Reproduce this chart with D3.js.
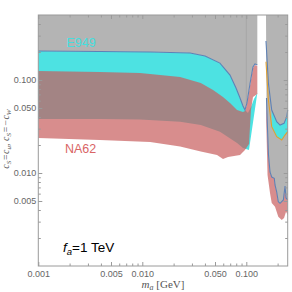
<!DOCTYPE html>
<html><head><meta charset="utf-8">
<script src="https://cdn.jsdelivr.net/npm/d3@7"></script>
<style>body{margin:0;background:#fff}</style></head>
<body>
<svg id="c" width="292" height="292"></svg>
<script>
// ---------- data (m_a in GeV, coupling) ----------
// upper envelope of the excluded region, left part (blue line)
const envMass = [0.001,0.0039,0.0119,0.0288,0.0401,0.0558,0.0697,0.0796,0.087,0.0929,0.0971,0.1015,0.1084,0.1159,0.1211,0.1276];
const envCoup = [0.205,0.2024,0.200,0.195,0.181,0.152,0.113,0.082,0.064,0.0525,0.0476,0.0566,0.0906,0.138,0.1486,0.145];
// E949 band (left part)
const e949UpMass = [0.001,0.0039,0.0119,0.0288,0.0401,0.0558,0.0697,0.0796,0.087,0.0929,0.0971,0.1037,0.1109,0.1185,0.1276];
const e949UpCoup = [0.205,0.2024,0.200,0.195,0.181,0.152,0.113,0.082,0.064,0.0525,0.0476,0.0442,0.0513,0.0625,0.0725];
const e949LoMass = [0.001,0.0039,0.0095,0.0231,0.0365,0.0558,0.0814,0.0929,0.1061];
const e949LoCoup = [0.0381,0.0381,0.0376,0.0356,0.0328,0.0278,0.021,0.0186,0.0177];
// NA62 band (left part)
const na62UpMass = [0.001,0.0039,0.0095,0.0231,0.0365,0.0479,0.0597,0.0697,0.0814,0.0929,0.0971,0.1015,0.1084,0.1159,0.1211,0.1276];
const na62UpCoup = [0.125,0.122,0.119,0.1077,0.0928,0.078,0.0656,0.0566,0.0476,0.0453,0.0464,0.0552,0.0861,0.1346,0.145,0.1415];
const na62LoMass = [0.001,0.0039,0.0119,0.0231,0.0365,0.0523,0.0597,0.0667,0.087,0.0971,0.1061,0.1109,0.1159,0.1276];
const na62LoCoup = [0.0238,0.0226,0.0216,0.0193,0.017,0.0156,0.01415,0.0149,0.0156,0.0177,0.0205,0.0476,0.0656,0.0706];
// right part: upper blue line, orange line, lower blue line
const rUpMass = [0.1546,0.163,0.1755,0.196,0.211,0.2306,0.245,0.25];
const rUpCoup = [0.2626,0.0928,0.0476,0.0356,0.0328,0.0342,0.0403,0.0476];
const rOrMass = [0.1546,0.163,0.1755,0.196,0.219,0.2357,0.25];
const rOrCoup = [0.1574,0.061,0.0315,0.0246,0.0226,0.0256,0.0278];
const rLoMass = [0.1563,0.160,0.1634,0.169,0.1755,0.1857,0.1888,0.196,0.203,0.211,0.227,0.2357,0.241,0.25];
const rLoCoup = [0.064,0.029,0.0156,0.01026,0.00906,0.00877,0.00743,0.00625,0.00491,0.00472,0.00513,0.00725,0.00539,0.00513];
// NA62 lower edge, right part
const na62RLoMass = [0.1553,0.160,0.169,0.1755,0.1888,0.203,0.219,0.2306,0.241,0.25];
const na62RLoCoup = [0.0372,0.0095,0.0061,0.00475,0.00434,0.00339,0.00312,0.00328,0.00384,0.00353];
const refMass = 0.1;
// ticks
const xMajor = [0.001,0.005,0.01,0.05,0.1];
const xMajorLabels = ["0.001","0.005","0.010","0.050","0.100"];
const xMinor = [0.002,0.003,0.004,0.006,0.007,0.008,0.009,0.02,0.03,0.04,0.06,0.07,0.08,0.09,0.2];
const yMajor = [0.005,0.01,0.05,0.1];
const yMajorLabels = ["0.005","0.010","0.050","0.100"];
const yMinor = [0.002,0.003,0.004,0.006,0.007,0.008,0.009,0.02,0.03,0.04,0.06,0.07,0.08,0.09,0.2,0.3,0.4];

// ---------- scales ----------
const x = d3.scaleLog().domain([0.001,0.25]).range([38.3,287.7]);
const y = d3.scaleLog().domain([0.001,0.5]).range([266,15]);
const yTop = y.domain()[1];
const zip = (a,b) => a.map((v,i)=>[v,b[i]]);
const line = d3.line().x(d=>x(d[0])).y(d=>y(d[1]));
const poly = (up, lo) => line(up.concat(lo.slice().reverse())) + "Z";

const svg = d3.select("#c");
const GRAY = "#b4b4b4", CYAN = "#4de2e2", PINK = "rgba(200,93,93,0.7)", BLUE = "#5e81b5", ORANGE = "#e0a030";

// gray excluded regions
svg.append("path").attr("fill",GRAY)
  .attr("d", poly([[envMass[0],yTop],[envMass[envMass.length-1],yTop]], zip(envMass,envCoup)));
svg.append("path").attr("fill",GRAY)
  .attr("d", poly([[rUpMass[0],yTop],[x.domain()[1],yTop]], zip(rLoMass,rLoCoup)));
// faint reference line
const envAtRef = d3.scaleLog().domain(envMass).range(envCoup)(refMass);
svg.append("line").attr("x1",x(refMass)).attr("x2",x(refMass)).attr("y1",y(yTop)).attr("y2",y(0.056))
  .attr("stroke","#a2a2a2").attr("stroke-width",0.8);

// E949 (cyan)
svg.append("path").attr("fill",CYAN)
  .attr("d", poly(zip(e949UpMass,e949UpCoup), zip(e949LoMass,e949LoCoup)));
const rUp = zip(rUpMass,rUpCoup), rOr = zip(rOrMass,rOrCoup);
svg.append("path").attr("fill",CYAN)
  .attr("d", poly(rUp.filter(d=>d[0]>=0.1755), rOr.filter(d=>d[0]>=0.1755)));

// NA62 (pink, translucent)
svg.append("path").attr("fill",PINK)
  .attr("d", poly(zip(na62UpMass,na62UpCoup), zip(na62LoMass,na62LoCoup)));
svg.append("path").attr("fill",PINK)
  .attr("d", poly(zip(rLoMass,rLoCoup), zip(na62RLoMass,na62RLoCoup)));

// boundary lines
const stroke = (pts,c)=>svg.append("path").attr("d",line(pts)).attr("fill","none").attr("stroke",c).attr("stroke-width",1.1);
stroke(zip(envMass,envCoup), BLUE);
stroke(rUp, BLUE);
stroke(zip(rLoMass,rLoCoup), BLUE);
stroke(rOr, ORANGE);

// ---------- axes ----------
const AX = "#9a9a9a";
function style(g){
  g.select(".domain").remove();
  g.selectAll(".tick line").attr("stroke",AX);
  g.selectAll(".tick text").attr("fill","#666").attr("font-family","'Liberation Sans', Arial, sans-serif").attr("font-size",9);
}
const x0 = x.range()[0], x1 = x.range()[1], y0 = y.range()[0], y1 = y.range()[1];
svg.append("g").attr("transform",`translate(0,${y0})`)
  .call(d3.axisBottom(x).tickValues(xMajor).tickFormat((d,i)=>xMajorLabels[i]).tickSizeInner(-4).tickSizeOuter(0).tickPadding(4.6)).call(style);
svg.append("g").attr("transform",`translate(0,${y0})`)
  .call(d3.axisBottom(x).tickValues(xMinor).tickFormat("").tickSizeInner(-2.5).tickSizeOuter(0)).call(style);
svg.append("g").attr("transform",`translate(0,${y1})`)
  .call(d3.axisTop(x).tickValues(xMajor).tickFormat("").tickSizeInner(-4).tickSizeOuter(0)).call(style);
svg.append("g").attr("transform",`translate(0,${y1})`)
  .call(d3.axisTop(x).tickValues(xMinor).tickFormat("").tickSizeInner(-2.5).tickSizeOuter(0)).call(style);
svg.append("g").attr("transform",`translate(${x0},0)`)
  .call(d3.axisLeft(y).tickValues(yMajor).tickFormat((d,i)=>yMajorLabels[i]).tickSizeInner(-4).tickSizeOuter(0).tickPadding(2)).call(style);
svg.append("g").attr("transform",`translate(${x0},0)`)
  .call(d3.axisLeft(y).tickValues(yMinor).tickFormat("").tickSizeInner(-2.5).tickSizeOuter(0)).call(style);
svg.append("g").attr("transform",`translate(${x1},0)`)
  .call(d3.axisRight(y).tickValues(yMajor).tickFormat("").tickSizeInner(-4).tickSizeOuter(0)).call(style);
svg.append("g").attr("transform",`translate(${x1},0)`)
  .call(d3.axisRight(y).tickValues(yMinor).tickFormat("").tickSizeInner(-2.5).tickSizeOuter(0)).call(style);
svg.append("rect").attr("x",x0).attr("y",y1).attr("width",x1-x0).attr("height",y0-y1)
  .attr("fill","none").attr("stroke",AX).attr("stroke-width",1);

// ---------- labels ----------
const SANS = "'Liberation Sans', Arial, sans-serif", SERIF = "'Liberation Serif', 'Times New Roman', serif";
svg.append("text").attr("x",66.5).attr("y",46.5).attr("fill","#45dede")
  .attr("font-family",SANS).attr("font-size",12.5).text("E949");
svg.append("text").attr("x",65).attr("y",153).attr("fill","#d96565")
  .attr("font-family",SANS).attr("font-size",12.5).text("NA62");
const fa = svg.append("text").attr("x",63).attr("y",252).attr("fill","#000")
  .attr("font-family",SANS).attr("font-size",13.5);
fa.append("tspan").attr("font-style","italic").text("f");
fa.append("tspan").attr("font-style","italic").attr("font-size",9.5).attr("dy",3).text("a");
fa.append("tspan").attr("dy",-3).text("=1 TeV");

const xl = svg.append("text").attr("x",163).attr("y",288).attr("text-anchor","middle")
  .attr("fill","#555").attr("font-family",SERIF).attr("font-size",11);
xl.append("tspan").attr("font-style","italic").text("m");
xl.append("tspan").attr("font-style","italic").attr("font-size",8).attr("dy",2).text("a");
xl.append("tspan").attr("dy",-2).text(" [GeV]");

const yl = svg.append("text").attr("transform","translate(9,139) rotate(-90)").attr("text-anchor","middle")
  .attr("fill","#555").attr("font-family",SERIF).attr("font-size",10).attr("font-style","italic");
const parts = [["c",0],["S",2],["=c",-2],["u",2],[", c",-2],["S",2],["=\u2212c",-2],["W",2]];
parts.forEach(([t,dy],i)=>{
  const s = yl.append("tspan").attr("dy",dy).text(t);
  if (dy>0) s.attr("font-size",7);
});
</script>
</body></html>
